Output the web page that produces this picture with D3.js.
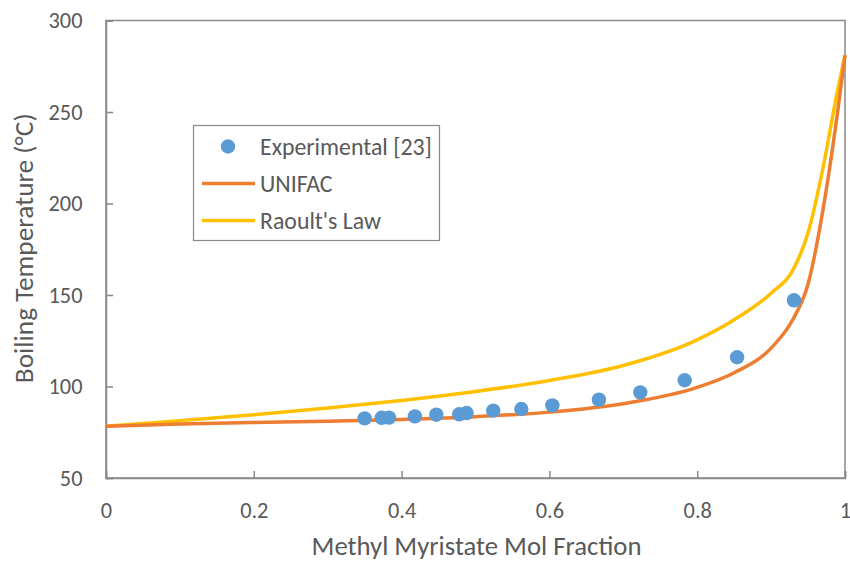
<!DOCTYPE html>
<html>
<head>
<meta charset="utf-8">
<script src="https://cdn.jsdelivr.net/npm/d3@7/dist/d3.min.js"></script>
<style>
  html, body { margin: 0; padding: 0; background: #fff; }
  svg { display: block; font-family: Carlito, Calibri, Lato, "Open Sans", sans-serif; }
</style>
</head>
<body>
<svg id="chart" width="850" height="561"></svg>
<script>
// Experimental boiling points (mol fraction of methyl myristate, °C)
const expX = [0.350, 0.373, 0.383, 0.418, 0.447, 0.478, 0.488, 0.524, 0.562, 0.604, 0.667, 0.723, 0.783, 0.854, 0.931];
const expT = [82.6, 82.9, 83.0, 83.7, 84.6, 84.8, 85.5, 86.8, 87.7, 89.7, 92.8, 96.8, 103.4, 116.0, 147.1];

// UNIFAC model curve
const unifacX = [0, 0.1, 0.2, 0.3, 0.4, 0.5, 0.6, 0.7, 0.8, 0.85, 0.9, 0.93, 0.95, 0.97, 0.99, 1.0];
const unifacT = [78.3, 79.5, 80.3, 81.0, 82.0, 83.5, 86.0, 90.6, 99.5, 107.5, 121, 137, 156, 196, 250, 281];

// Raoult's law curve
const raoultX = [0, 0.1, 0.2, 0.3, 0.4, 0.5, 0.6, 0.7, 0.8, 0.85, 0.9, 0.93, 0.95, 0.97, 0.99, 1.0];
const raoultT = [78.3, 81.3, 84.5, 88.2, 92.4, 97.3, 103.3, 111.5, 125.5, 136.5, 151, 164, 184, 219, 262, 281];

const xTicks = [0, 0.2, 0.4, 0.6, 0.8, 1];
const yTicks = [50, 100, 150, 200, 250, 300];
const seriesNames = ["Experimental [23]", "UNIFAC", "Raoult's Law"];

const colors = { exp: "#5B9BD5", unifac: "#ED7D31", raoult: "#FFC000", text: "#595959", axis: "#898989" };
const fontStack = "Carlito, Calibri, Lato, 'Open Sans', sans-serif";

const svg = d3.select("#chart");
const plot = { left: 106, right: 845, top: 20.5, bottom: 478 };

const x = d3.scaleLinear().domain([0, 1]).range([plot.left, plot.right]);
const y = d3.scaleLinear().domain([50, 300]).range([plot.bottom, plot.top]);

// Pick a font size so that a text node spans the wanted width in whatever face is available
function fitSize(node, baseSize, width) {
  const w = node.getComputedTextLength();
  return w > 0 ? baseSize * width / w : baseSize;
}

// Plot frame
svg.append("rect")
  .attr("x", plot.left).attr("y", plot.top)
  .attr("width", plot.right - plot.left).attr("height", plot.bottom - plot.top)
  .attr("fill", "none").attr("stroke", colors.axis).attr("stroke-width", 1.5);

// Axes with inward ticks
const xAxis = svg.append("g").attr("transform", `translate(0,${plot.bottom})`)
  .call(d3.axisBottom(x).tickValues(xTicks).tickSize(-7).tickPadding(24)
    .tickFormat(d => d3.format("")(d)));
const yAxis = svg.append("g").attr("transform", `translate(${plot.left},0)`)
  .call(d3.axisLeft(y).tickValues(yTicks).tickSize(-7).tickPadding(23.5));

[xAxis, yAxis].forEach(g => {
  g.attr("font-family", fontStack).attr("font-size", 20);
  g.select(".domain").attr("stroke", colors.axis).attr("stroke-width", 1.5);
  g.selectAll(".tick line").attr("stroke", colors.axis).attr("stroke-width", 1.5);
  g.selectAll(".tick text").attr("fill", colors.text);
});
const topLabel = yAxis.selectAll(".tick text").filter(d => d === 300).node();
const tickSize = Math.min(28, fitSize(topLabel, 20, 34));
xAxis.attr("font-size", tickSize);
yAxis.attr("font-size", tickSize);

// Axis titles
const xTitle = svg.append("text")
  .attr("x", (plot.left + plot.right) / 2 + 1).attr("y", 555)
  .attr("text-anchor", "middle").attr("fill", colors.text).attr("font-size", 25)
  .text("Methyl Myristate Mol Fraction");
xTitle.attr("font-size", fitSize(xTitle.node(), 25, 330));
const yTitle = svg.append("text")
  .attr("transform", `translate(33,${(plot.top + plot.bottom) / 2 - 1}) rotate(-90)`)
  .attr("text-anchor", "middle").attr("fill", colors.text).attr("font-size", 25)
  .text("Boiling Temperature (°C)");
yTitle.attr("font-size", fitSize(yTitle.node(), 25, 270));

// Model curves
const line = d3.line().x(d => x(d[0])).y(d => y(d[1])).curve(d3.curveMonotoneX);
svg.append("path")
  .datum(raoultX.map((v, i) => [v, raoultT[i]]))
  .attr("d", line).attr("fill", "none").attr("stroke", colors.raoult)
  .attr("stroke-width", 3.5).attr("stroke-linejoin", "round");
svg.append("path")
  .datum(unifacX.map((v, i) => [v, unifacT[i]]))
  .attr("d", line).attr("fill", "none").attr("stroke", colors.unifac)
  .attr("stroke-width", 3.5).attr("stroke-linejoin", "round");

// Experimental points
svg.append("g").selectAll("circle")
  .data(expX.map((v, i) => [v, expT[i]]))
  .join("circle")
  .attr("cx", d => x(d[0])).attr("cy", d => y(d[1]))
  .attr("r", 7.2).attr("fill", colors.exp);

// Legend
const legend = svg.append("g");
legend.append("rect")
  .attr("x", 193.5).attr("y", 125.5).attr("width", 246).attr("height", 115)
  .attr("fill", "#fff").attr("stroke", colors.axis).attr("stroke-width", 1.2);
const rowsY = [146.5, 183.5, 220.5];
legend.append("circle").attr("cx", 228).attr("cy", rowsY[0]).attr("r", 7.2).attr("fill", colors.exp);
legend.append("line").attr("x1", 202).attr("x2", 255).attr("y1", rowsY[1]).attr("y2", rowsY[1])
  .attr("stroke", colors.unifac).attr("stroke-width", 3.5);
legend.append("line").attr("x1", 202).attr("x2", 255).attr("y1", rowsY[2]).attr("y2", rowsY[2])
  .attr("stroke", colors.raoult).attr("stroke-width", 3.5);
const legendTexts = legend.selectAll("text.item")
  .data(seriesNames)
  .join("text").attr("class", "item")
  .attr("x", 260).attr("y", (d, i) => rowsY[i]).attr("dy", "0.35em")
  .attr("fill", colors.text).attr("font-size", 23).text(d => d);
legendTexts.attr("font-size", fitSize(legendTexts.node(), 23, 172));
</script>
</body>
</html>
